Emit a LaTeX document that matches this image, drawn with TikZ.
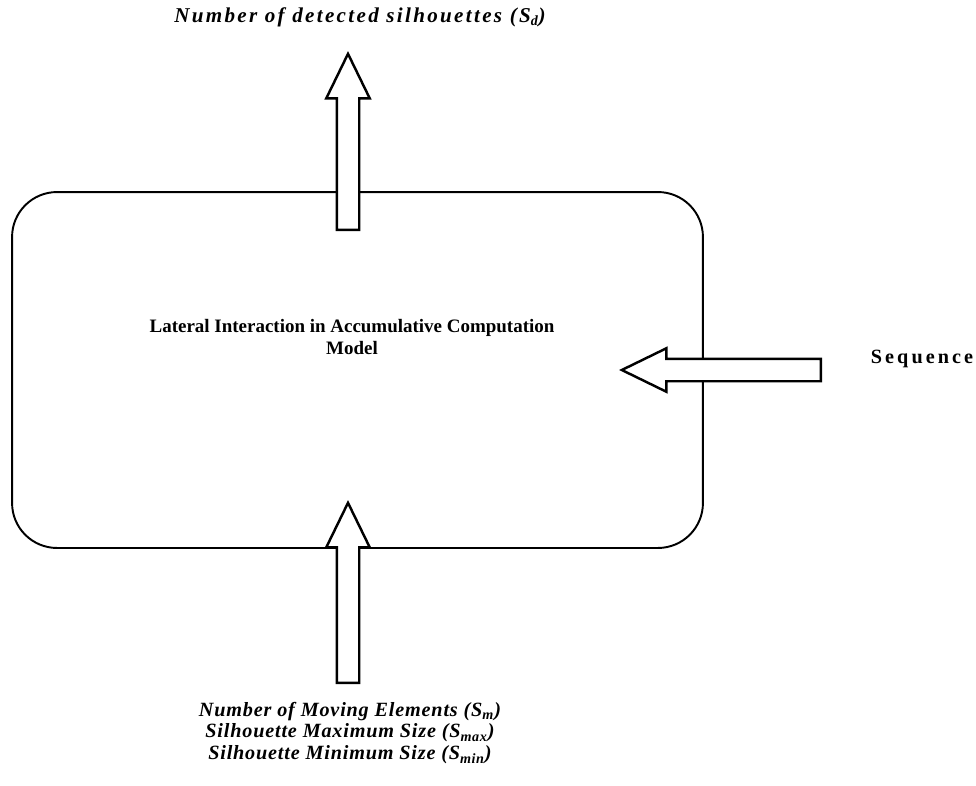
\documentclass[tikz,border=0pt]{standalone}
\usepackage{fontspec}
\setmainfont{Liberation Serif}
\usepackage{tikz}
\usetikzlibrary{shapes.arrows}

\begin{document}
\begin{tikzpicture}[x=0.02cm,y=-0.02cm]
\tikzstyle{model}=[rectangle,draw=black,line width=1.1pt,rounded corners=0.9cm,minimum width=13.82cm,minimum height=7.12cm]
\tikzstyle{bigarrow}=[single arrow,draw=black,line width=1.4pt,fill=white,inner xsep=0pt,inner ysep=0.2cm,minimum width=0.82cm,single arrow head extend=0.21cm,single arrow tip angle=52,anchor=tail]
\tikzstyle{label}=[font=\fontsize{10.8}{12.5}\selectfont\bfseries,align=center]
\tikzstyle{itlabel}=[align=center,font=\fontsize{11.5}{12.5}\selectfont\bfseries\itshape\addfontfeatures{LetterSpace=4}]
\useasboundingbox (0,0) rectangle (976,785);
% the model box
\node[model] (box) at (357.5,370) {};
\node[label] (boxtext) at (352,337) {Lateral Interaction in Accumulative Computation\\Model};
% arrows in and out
\node[bigarrow,minimum height=3.52cm,rotate=90] (out) at (348,231) {};
\node[bigarrow,minimum height=3.6cm,rotate=90] (in) at (348,684) {};
\node[bigarrow,minimum height=3.98cm,rotate=180] (seq) at (822,370) {};
% texts
\node[itlabel,font=\fontsize{12}{12.5}\selectfont\bfseries\itshape\addfontfeatures{LetterSpace=11}] (sd) at (360,17) {Number of detected silhouettes (S\textsubscript{d})};
\node[label,font=\fontsize{11.5}{12.5}\selectfont\bfseries\addfontfeatures{LetterSpace=15}] (seqtext) at (922,359) {Sequence};
\node[itlabel] (params) at (350,733) {Number of Moving Elements (S\textsubscript{m})\\Silhouette Maximum Size (S\textsubscript{max})\\Silhouette Minimum Size (S\textsubscript{min})};
\end{tikzpicture}
\end{document}
